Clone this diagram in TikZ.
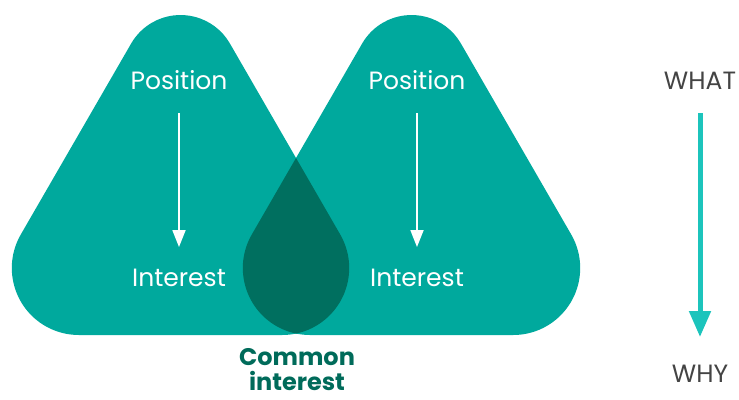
\documentclass[tikz,border=0pt]{standalone}
\usepackage{fontspec}
\setmainfont{Poppins}
\usetikzlibrary{arrows.meta}
\definecolor{tealmain}{HTML}{00A99D}
\definecolor{tealdark}{HTML}{006F5F}
\definecolor{tealbright}{HTML}{1CC4BC}
\definecolor{greendark}{HTML}{006B5A}
\definecolor{graytext}{HTML}{444444}
\begin{document}
\begin{tikzpicture}[x=1pt,y=1pt,
  lbl/.style={text=white,font=\fontsize{25}{25}\selectfont,anchor=base,inner sep=0pt},
  sidelbl/.style={text=graytext,font=\fontsize{25}{25}\selectfont,anchor=base,inner sep=0pt},
  commonlbl/.style={text=greendark,font=\bfseries\fontsize{24}{26}\selectfont,anchor=base,inner sep=0pt},
  whitearrow/.style={draw=white,line width=1.8pt,-{Triangle[length=17pt,width=13pt]}},
  bigarrow/.style={draw=tealbright,line width=5pt,-{Triangle[length=26pt,width=21pt]}}
]
\useasboundingbox (0,0) rectangle (739,-399);
\def\tri#1{(#1-101.7,-335) -- (#1+101.7,-335) arc[start angle=-90,end angle=30,radius=67pt]
  -- (#1+49.4,-43.5) arc[start angle=30,end angle=150,radius=57pt]
  -- (#1-159.7,-234.5) arc[start angle=150,end angle=270,radius=67pt] -- cycle}
\fill[tealmain] \tri{180.5};
\fill[tealmain] \tri{411.5};
\begin{scope}
  \clip \tri{180.5};
  \fill[tealdark] \tri{411.5};
\end{scope}
% left
\node[lbl] (p1) at (179,-89) {Position};
\node[lbl] (i1) at (179,-286) {Interest};
\coordinate (p1s) at (179,-113);
\coordinate (i1e) at (179,-247);
\draw[whitearrow] (p1s) -- (i1e);
% right
\node[lbl] (p2) at (417,-89) {Position};
\node[lbl] (i2) at (417,-286) {Interest};
\coordinate (p2s) at (417,-113);
\coordinate (i2e) at (417,-247);
\draw[whitearrow] (p2s) -- (i2e);
% common
\node[commonlbl] (c1) at (297,-365) {Common};
\node[commonlbl] (c2) at (297,-390) {interest};
% side
\node[sidelbl] (what) at (700,-89) {WHAT};
\node[sidelbl] (why) at (700,-382) {WHY};
\coordinate (ws) at (700,-113);
\coordinate (we) at (700,-337);
\draw[bigarrow] (ws) -- (we);
\end{tikzpicture}
\end{document}
